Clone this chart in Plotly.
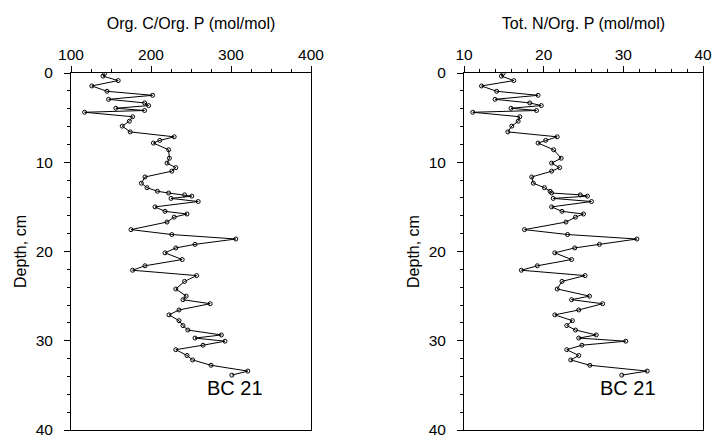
import plotly.graph_objects as go

depth = [0.05, 0.35, 0.85, 1.45, 2.05, 2.5, 2.95, 3.35, 3.65, 3.95, 4.2, 4.4, 4.9, 5.4, 5.95,
         6.6, 7.15, 7.55, 7.85, 8.6, 9.55, 10.1, 10.6, 11.0, 11.65, 12.35, 12.85, 13.25, 13.45,
         13.65, 13.8, 14.05, 14.4, 15.0, 15.5, 15.8, 16.15, 16.7, 17.55, 18.1, 18.6, 19.2, 19.6,
         20.15, 20.9, 21.6, 22.1, 22.7, 23.35, 24.2, 25.0, 25.4, 25.85, 26.55, 27.1, 27.75, 28.3,
         28.8, 29.35, 29.7, 30.05, 30.5, 31.0, 31.65, 32.15, 32.75, 33.4, 33.85]

org_c_org_p = [142, 140, 159, 126, 145, 202, 147, 192, 197, 156, 192, 117, 177, 173, 164,
               174, 229, 211, 203, 222, 223, 220, 231, 226, 192.5, 188, 195, 208, 222,
               242, 251, 225, 259, 205, 217.5, 245, 229, 220, 175, 226, 306, 255, 231,
               217.5, 239, 192.5, 177, 257, 242, 231, 244, 240, 274, 235, 222.5, 235, 240,
               246, 288, 255, 292.5, 265, 231, 245, 252, 275, 321, 301]

tot_n_org_p = [14.9, 14.7, 16.25, 12.2, 14.1, 19.3, 13.9, 18.25, 19.7, 15.9, 19.1, 11.1, 17.0, 16.8, 16.0,
               15.5, 21.7, 20.25, 19.3, 21.25, 22.2, 21.0, 22.0, 21.0, 18.5, 18.7, 20.1, 20.8, 21.0,
               24.6, 25.5, 21.2, 26.0, 21.0, 22.3, 25.0, 24.0, 22.8, 17.6, 23.0, 31.7, 27.0, 23.9,
               21.4, 23.5, 19.2, 17.2, 25.2, 22.3, 21.7, 25.75, 23.5, 27.4, 24.4, 21.4, 23.6, 22.9,
               24.0, 26.6, 24.4, 30.3, 24.8, 22.9, 24.4, 23.4, 25.8, 33.0, 29.8]

depth_ticks = [0, 10, 20, 30, 40]
c_ticks = [100, 200, 300, 400]
n_ticks = [10, 20, 30, 40]

core_label = "BC 21"
x_titles = ["Org. C/Org. P (mol/mol)", "Tot. N/Org. P (mol/mol)"]
y_title = "Depth, cm"

W, H = 714, 438
FONT = "Liberation Sans, Arial, Helvetica, sans-serif"

fig = go.Figure()

line_style = dict(color="black", width=1)
marker_style = dict(symbol="circle-open", size=4, color="black", line=dict(color="black", width=1))

fig.add_trace(go.Scatter(x=org_c_org_p, y=depth, mode="lines+markers", line=line_style,
                         marker=marker_style, xaxis="x", yaxis="y", showlegend=False))
fig.add_trace(go.Scatter(x=tot_n_org_p, y=depth, mode="lines+markers", line=line_style,
                         marker=marker_style, xaxis="x2", yaxis="y2", showlegend=False))

ydom = [8 / H, 365 / H]

def xaxis_common(ticks, minor, dom, anchor, title):
    return dict(
        domain=dom, range=[ticks[0], ticks[-1]], side="top", anchor=anchor, automargin=False,
        tickmode="array", tickvals=ticks, ticktext=[str(t) for t in ticks],
        ticks="outside", ticklen=6, tickwidth=1, tickcolor="black",
        minor=dict(tick0=ticks[0], dtick=minor, ticks="outside", ticklen=3, tickwidth=1, tickcolor="black"),
        showline=True, linecolor="black", linewidth=1, mirror=True,
        showgrid=False, zeroline=False, ticklabeloverflow="allow",
        tickfont=dict(family=FONT, size=15.5, color="black"),
        title=dict(text=title, font=dict(family=FONT, size=16, color="black"), standoff=12),
    )

def yaxis_common(anchor):
    return dict(
        domain=ydom, range=[depth_ticks[-1], depth_ticks[0]], anchor=anchor, automargin=False,
        tickmode="array", tickvals=depth_ticks, ticktext=[str(t) for t in depth_ticks],
        ticks="outside", ticklen=6, tickwidth=1, tickcolor="black",
        minor=dict(tick0=0, dtick=2, ticks="outside", ticklen=3, tickwidth=1, tickcolor="black"),
        showline=True, linecolor="black", linewidth=1, mirror=True,
        showgrid=False, zeroline=False, ticklabeloverflow="allow",
        tickfont=dict(family=FONT, size=15.5, color="black"),
        ticklabelstandoff=8,
        title=dict(text=y_title, font=dict(family=FONT, size=16, color="black"), standoff=5),
    )

fig.update_layout(
    width=W, height=H,
    margin=dict(l=0, r=0, t=0, b=0, autoexpand=False),
    paper_bgcolor="white", plot_bgcolor="white",
    xaxis=xaxis_common(c_ticks, 25, [71 / W, 311 / W], "y", x_titles[0]),
    xaxis2=xaxis_common(n_ticks, 2, [464 / W, 703 / W], "y2", x_titles[1]),
    yaxis=yaxis_common("x"),
    yaxis2=yaxis_common("x2"),
    annotations=[
        dict(text=core_label, xref="x domain", yref="y domain", x=0.81, y=0.08,
             showarrow=False, font=dict(family=FONT, size=20, color="black")),
        dict(text=core_label, xref="x2 domain", yref="y2 domain", x=0.81, y=0.08,
             showarrow=False, font=dict(family=FONT, size=20, color="black")),
    ],
)

fig.write_html("out.html")
